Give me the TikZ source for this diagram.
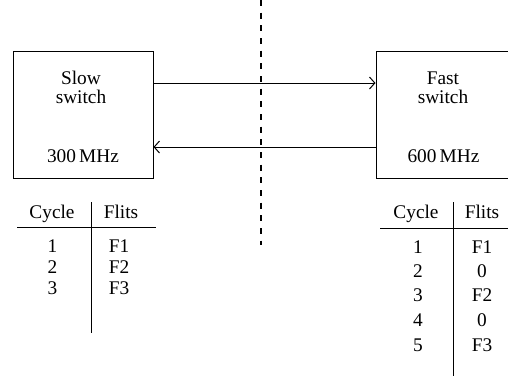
\documentclass[tikz,border=0pt]{standalone}
\usepackage{fontspec}
\setmainfont{Liberation Serif}
\usetikzlibrary{arrows.meta}
\begin{document}
\begin{tikzpicture}[x=0.75pt,y=-0.75pt,
  switchbox/.style={draw,line width=0.75pt,minimum height=95.25pt,inner sep=0pt},
  lbl/.style={anchor=base,inner sep=0pt,font=\fontsize{14.5}{17}\selectfont},
  link/.style={line width=0.75pt,-{Straight Barb[length=4pt,width=9pt]}},
  rulel/.style={line width=0.75pt},
  cut/.style={line width=0.8pt,dash pattern=on 4.5pt off 5pt}]
\useasboundingbox (0,0) rectangle (508,376);
\clip (0,0) rectangle (508,376);

% the two switches
\node[switchbox,minimum width=105pt] (slow) at (83,114.5) {};
\node[switchbox,minimum width=111pt] (fast) at (450,114.5) {};

\node[lbl] (slowname) at (81,84) {Slow};
\node[lbl] (slowsw)   at (81,103) {switch};
\node[lbl] (slowf)    at (83,162) {300\,MHz};
\node[lbl] (fastname) at (443,84) {Fast};
\node[lbl] (fastsw)   at (443,103) {switch};
\node[lbl] (fastf)    at (443.5,162) {600\,MHz};

% links between the switches
\draw[link] (slow.east |- 0,83) -- (fast.west |- 0,83);
\draw[link] (fast.west |- 0,147) -- (slow.east |- 0,147);

% clock domain boundary
\coordinate (cuttop) at (261,0);
\coordinate (cutbot) at (261,245);
\draw[cut] (cuttop) -- (cutbot);

% slow side schedule
\node[lbl] (lhc) at (52,218) {Cycle};
\node[lbl] (lhf) at (121,218) {Flits};
\coordinate (lhl) at (17,227);
\coordinate (lhr) at (156,227);
\coordinate (lvt) at (91,202);
\coordinate (lvb) at (91,333);
\draw[rulel] (lhl) -- (lhr);
\draw[rulel] (lvt) -- (lvb);
\foreach \c/\f/\y in {1/F1/252, 2/F2/273, 3/F3/294}{
  \node[lbl] (lc\c) at (52.5,\y) {\c};
  \node[lbl] (lf\c) at (119,\y) {\f};
}

% fast side schedule
\node[lbl] (rhc) at (416,218) {Cycle};
\node[lbl] (rhf) at (482,218) {Flits};
\coordinate (rhl) at (380,228);
\coordinate (rhr) at (508,228);
\coordinate (rvt) at (453,202);
\coordinate (rvb) at (453,376);
\draw[rulel] (rhl) -- (rhr);
\draw[rulel] (rvt) -- (rvb);
\foreach \c/\f/\y in {1/F1/253, 2/0/277, 3/F2/301, 4/0/326, 5/F3/351}{
  \node[lbl] (rc\c) at (418,\y) {\c};
  \node[lbl] (rf\c) at (482,\y) {\f};
}
\end{tikzpicture}
\end{document}
